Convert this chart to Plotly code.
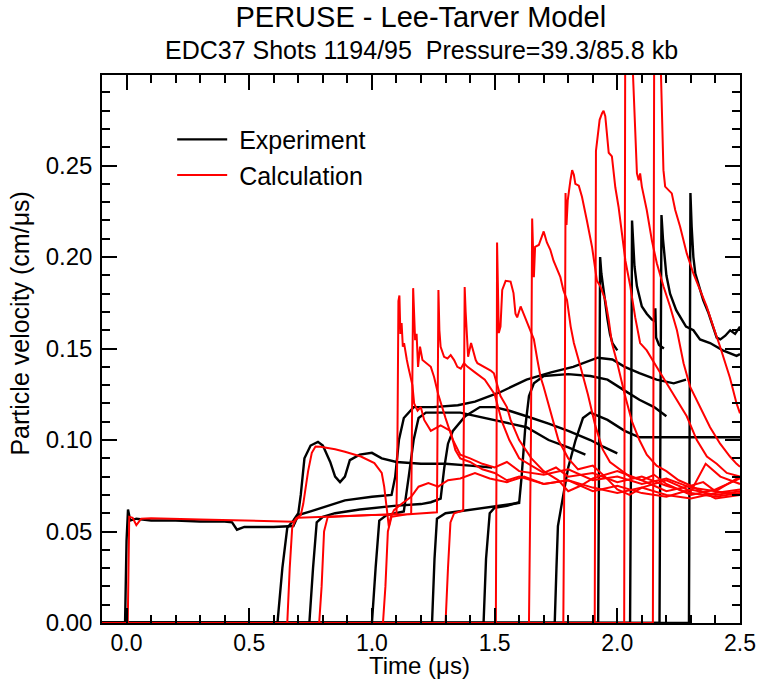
import plotly.graph_objects as go

# ---------------- Experiment (black) gauge records ----------------
exp01_t = [-0.1, -0.006, 0.0, 0.006, 0.015, 0.04, 0.1, 0.2, 0.3, 0.4, 0.43, 0.45, 0.48, 0.6, 0.68, 0.70, 0.75, 0.8, 0.89, 1.0, 1.08, 1.095, 1.11, 1.13, 1.17, 1.25, 1.35, 1.42, 1.52, 1.63, 1.73, 1.82, 1.92, 1.98, 2.03, 2.09, 2.16, 2.23, 2.28]
exp01_u = [0, 0, 0.045, 0.062, 0.056, 0.057, 0.056, 0.056, 0.0555, 0.0555, 0.055, 0.051, 0.0525, 0.0525, 0.053, 0.059, 0.061, 0.063, 0.067, 0.069, 0.070, 0.08, 0.1, 0.112, 0.118, 0.118, 0.119, 0.121, 0.126, 0.133, 0.137, 0.140, 0.145, 0.144, 0.14, 0.1366, 0.133, 0.131, 0.133]

exp02_t = [-0.1, 0.615, 0.635, 0.655, 0.68, 0.70, 0.71, 0.725, 0.75, 0.78, 0.80, 0.83, 0.85, 0.87, 0.89, 0.91, 0.95, 1.0, 1.04, 1.1, 1.2, 1.3, 1.4, 1.49]
exp02_u = [0, 0, 0.03, 0.052, 0.056, 0.060, 0.07, 0.09, 0.097, 0.099, 0.097, 0.088, 0.08, 0.077, 0.08, 0.089, 0.092, 0.093, 0.090, 0.088, 0.087, 0.087, 0.086, 0.085]

exp03_t = [-0.1, 0.745, 0.76, 0.775, 0.80, 0.85, 0.95, 1.09, 1.2, 1.24, 1.28, 1.295, 1.31, 1.33, 1.38, 1.44, 1.5, 1.56, 1.63, 1.72, 1.8, 1.89, 1.94, 2.0]
exp03_u = [0, 0, 0.03, 0.055, 0.058, 0.060, 0.062, 0.064, 0.065, 0.066, 0.068, 0.085, 0.098, 0.105, 0.113, 0.118, 0.118, 0.116, 0.113, 0.109, 0.105, 0.1, 0.0965, 0.0927]

exp04_t = [-0.1, 1.0, 1.015, 1.03, 1.06, 1.13, 1.15, 1.17, 1.19, 1.22, 1.36, 1.5, 1.63, 1.72, 1.8, 1.87]
exp04_u = [0, 0, 0.03, 0.056, 0.059, 0.061, 0.08, 0.1, 0.112, 0.115, 0.115, 0.111, 0.107, 0.1, 0.096, 0.092]

exp05_t = [-0.1, 1.245, 1.255, 1.265, 1.3, 1.4, 1.5, 1.6, 1.61, 1.625, 1.64, 1.66, 1.7, 1.8, 1.89, 1.96, 2.03, 2.09, 2.15, 2.2]
exp05_u = [0, 0, 0.035, 0.057, 0.06, 0.062, 0.064, 0.0656, 0.08, 0.107, 0.124, 0.131, 0.135, 0.136, 0.135, 0.133, 0.127, 0.122, 0.118, 0.113]

exp06_t = [-0.1, 1.455, 1.465, 1.48, 1.5, 1.55, 1.6]
exp06_u = [0, 0, 0.035, 0.06, 0.063, 0.064, 0.066]

exp07_t = [-0.1, 1.745, 1.752, 1.758, 1.78, 1.80, 1.83, 1.86, 1.89, 1.96, 2.03, 2.09, 2.5]
exp07_u = [0, 0, 0.03, 0.053, 0.07, 0.085, 0.1, 0.112, 0.115, 0.111, 0.105, 0.1015, 0.1015]

exp08_t = [-0.1, 1.922, 1.926, 1.93, 1.935, 1.945, 1.952, 1.96, 1.97, 1.98, 2.0]
exp08_u = [0, 0, 0.1, 0.2, 0.191, 0.18, 0.173, 0.166, 0.158, 0.153, 0.149]

exp09_t = [-0.1, 2.052, 2.057, 2.06, 2.065, 2.07, 2.08, 2.1, 2.12, 2.14, 2.152, 2.155, 2.158, 2.17, 2.19]
exp09_u = [0, 0, 0.12, 0.22, 0.2075, 0.195, 0.184, 0.173, 0.169, 0.166, 0.165, 0.172, 0.156, 0.152, 0.15]

exp10_t = [-0.1, 2.172, 2.176, 2.18, 2.186, 2.19, 2.2, 2.215, 2.24, 2.28, 2.31, 2.337, 2.378, 2.43, 2.486, 2.5]
exp10_u = [0, 0, 0.12, 0.223, 0.21, 0.204, 0.19, 0.18, 0.171, 0.162, 0.16, 0.155, 0.153, 0.149, 0.146, 0.147]

exp11_t = [-0.1, 2.292, 2.295, 2.298, 2.303, 2.31, 2.318, 2.33, 2.35, 2.37, 2.39, 2.405, 2.42, 2.44, 2.46, 2.48, 2.5]
exp11_u = [0, 0, 0.12, 0.235, 0.2166, 0.2, 0.191, 0.186, 0.1765, 0.17, 0.162, 0.156, 0.155, 0.157, 0.16, 0.158, 0.162]

# ---------------- Calculation (red) gauge records ----------------
calc01_t = [-0.1, 0.005, 0.008, 0.011, 0.025, 0.04, 0.06, 0.1, 0.3, 0.5, 0.68, 0.70, 0.9, 1.1, 1.104, 1.108, 1.112, 1.116, 1.121, 1.126, 1.131, 1.137, 1.142, 1.148, 1.165, 1.172, 1.186, 1.199, 1.213, 1.24, 1.28, 1.32, 1.34, 1.36, 1.40, 1.45, 1.5, 1.55, 1.6, 1.7, 1.8, 1.9, 2.0, 2.1, 2.2, 2.3, 2.4, 2.5]
calc01_u = [0, 0, 0.03, 0.058, 0.0575, 0.0535, 0.057, 0.0572, 0.0566, 0.056, 0.0553, 0.0575, 0.0585, 0.0595, 0.1, 0.176, 0.179, 0.158, 0.164, 0.151, 0.153, 0.147, 0.144, 0.14, 0.13, 0.12, 0.116, 0.118, 0.111, 0.105, 0.108, 0.105, 0.0945, 0.09, 0.088, 0.084, 0.082, 0.078, 0.080, 0.076, 0.078, 0.072, 0.075, 0.071, 0.069, 0.073, 0.070, 0.072]

calc02_t = [-0.1, 0.655, 0.665, 0.675, 0.69, 0.71, 0.72, 0.74, 0.755, 0.77, 0.79, 0.85, 0.89, 0.955, 1.01, 1.04, 1.05, 1.057, 1.063, 1.069, 1.077, 1.09, 1.12, 1.16, 1.19, 1.23, 1.27, 1.31, 1.36, 1.42, 1.48, 1.55, 1.62, 1.7, 1.8, 1.9, 2.0, 2.1, 2.2, 2.3, 2.4, 2.5]
calc02_u = [0, 0, 0.03, 0.052, 0.057, 0.059, 0.065, 0.083, 0.093, 0.0965, 0.0963, 0.095, 0.0936, 0.091, 0.0874, 0.082, 0.0745, 0.0672, 0.058, 0.0527, 0.058, 0.0617, 0.065, 0.069, 0.0745, 0.0765, 0.0745, 0.078, 0.079, 0.082, 0.079, 0.077, 0.08, 0.076, 0.078, 0.074, 0.071, 0.074, 0.070, 0.068, 0.071, 0.073]

calc03_t = [-0.1, 0.785, 0.795, 0.805, 0.82, 0.9, 1.0, 1.16, 1.164, 1.168, 1.176, 1.182, 1.188, 1.196, 1.206, 1.22, 1.24, 1.253, 1.27, 1.30, 1.33, 1.36, 1.4, 1.45, 1.5, 1.55, 1.6, 1.7, 1.8, 1.9, 2.0, 2.1, 2.2, 2.3, 2.4, 2.5]
calc03_u = [0, 0, 0.02, 0.05, 0.058, 0.0585, 0.059, 0.0595, 0.12, 0.183, 0.1546, 0.158, 0.14, 0.151, 0.1437, 0.142, 0.14, 0.1346, 0.125, 0.112, 0.1, 0.092, 0.09, 0.087, 0.085, 0.088, 0.083, 0.081, 0.084, 0.078, 0.08, 0.076, 0.079, 0.074, 0.072, 0.07]

calc04_t = [-0.1, 1.045, 1.055, 1.065, 1.08, 1.15, 1.265, 1.268, 1.271, 1.275, 1.28, 1.294, 1.308, 1.321, 1.335, 1.348, 1.362, 1.375, 1.39, 1.42, 1.46, 1.5, 1.53, 1.56, 1.6, 1.65, 1.7, 1.75, 1.8, 1.9, 2.0, 2.1, 2.2, 2.3, 2.4, 2.5]
calc04_u = [0, 0, 0.02, 0.05, 0.058, 0.0595, 0.0605, 0.12, 0.182, 0.16, 0.151, 0.1455, 0.1446, 0.1464, 0.1437, 0.14, 0.139, 0.142, 0.14, 0.137, 0.133, 0.125, 0.11, 0.1, 0.09, 0.086, 0.082, 0.085, 0.08, 0.082, 0.077, 0.08, 0.075, 0.071, 0.069, 0.071]

calc05_t = [-0.1, 1.3, 1.31, 1.32, 1.335, 1.372, 1.375, 1.378, 1.382, 1.386, 1.392, 1.404, 1.417, 1.423, 1.43, 1.457, 1.484, 1.497, 1.51, 1.524, 1.55, 1.565, 1.6, 1.65, 1.7, 1.76, 1.8, 1.85, 1.9, 2.0, 2.1, 2.2, 2.3, 2.4, 2.5]
calc05_u = [0, 0, 0.03, 0.055, 0.06, 0.0615, 0.12, 0.1836, 0.17, 0.162, 0.1455, 0.153, 0.1455, 0.1437, 0.142, 0.14, 0.138, 0.1365, 0.131, 0.124, 0.118, 0.111, 0.1, 0.09, 0.083, 0.078, 0.072, 0.075, 0.079, 0.083, 0.078, 0.072, 0.075, 0.068, 0.07]

calc06_t = [-0.1, 1.505, 1.508, 1.51, 1.517, 1.524, 1.531, 1.545, 1.565, 1.577, 1.585, 1.592, 1.606, 1.618, 1.633, 1.646, 1.66, 1.674, 1.687, 1.70, 1.714, 1.728, 1.76, 1.8, 1.84, 1.9, 1.95, 2.0, 2.05, 2.1, 2.2, 2.3, 2.36, 2.42, 2.5]
calc06_u = [0, 0, 0.1, 0.208, 0.1585, 0.162, 0.182, 0.187, 0.1866, 0.1803, 0.169, 0.167, 0.173, 0.169, 0.164, 0.16, 0.155, 0.144, 0.1346, 0.129, 0.122, 0.1146, 0.1, 0.09, 0.084, 0.086, 0.08, 0.073, 0.07, 0.074, 0.078, 0.072, 0.087, 0.08, 0.076]

calc07_t = [-0.1, 1.64, 1.648, 1.653, 1.66, 1.665, 1.68, 1.70, 1.713, 1.727, 1.74, 1.754, 1.768, 1.78, 1.795, 1.81, 1.823, 1.85, 1.88, 1.91, 1.94, 1.97, 2.0, 2.05, 2.1, 2.15, 2.2, 2.3, 2.4, 2.5]
calc07_u = [0, 0, 0.1, 0.221, 0.189, 0.2056, 0.2066, 0.214, 0.208, 0.204, 0.198, 0.193, 0.189, 0.182, 0.1765, 0.162, 0.153, 0.14, 0.125, 0.108, 0.095, 0.088, 0.085, 0.08, 0.078, 0.081, 0.076, 0.07, 0.073, 0.079]

calc08_t = [-0.1, 1.78, 1.786, 1.789, 1.793, 1.798, 1.809, 1.816, 1.823, 1.829, 1.843, 1.856, 1.876, 1.897, 1.917, 1.931, 1.951, 1.965, 1.978, 2.0, 2.03, 2.06, 2.09, 2.12, 2.16, 2.2, 2.25, 2.3, 2.35, 2.4, 2.5]
calc08_u = [0, 0, 0.12, 0.235, 0.2175, 0.231, 0.242, 0.2475, 0.245, 0.24, 0.239, 0.233, 0.22, 0.2056, 0.187, 0.184, 0.1765, 0.1656, 0.153, 0.142, 0.125, 0.11, 0.1, 0.092, 0.086, 0.083, 0.078, 0.075, 0.077, 0.072, 0.08]

calc09_t = [-0.1, 1.908, 1.913, 1.92, 1.928, 1.938, 1.944, 1.951, 1.958, 1.965, 1.978, 1.992, 2.005, 2.019, 2.033, 2.053, 2.073, 2.093, 2.12, 2.16, 2.2, 2.243, 2.283, 2.324, 2.365, 2.405, 2.446, 2.5]
calc09_u = [0, 0, 0.258, 0.266, 0.275, 0.2786, 0.28, 0.277, 0.266, 0.257, 0.255, 0.238, 0.2275, 0.213, 0.198, 0.184, 0.167, 0.153, 0.149, 0.14, 0.131, 0.122, 0.113, 0.1, 0.091, 0.087, 0.082, 0.08]

calc10_t = [-0.1, 2.028, 2.032, 2.045, 2.064, 2.073, 2.08, 2.087, 2.093, 2.1, 2.12, 2.141, 2.161, 2.188, 2.215, 2.243, 2.27, 2.297, 2.337, 2.378, 2.419, 2.459, 2.486, 2.5]
calc10_u = [0, 0, 0.3, 0.34, 0.2995, 0.271, 0.2457, 0.242, 0.2457, 0.2385, 0.2257, 0.209, 0.1966, 0.184, 0.173, 0.16, 0.142, 0.129, 0.118, 0.107, 0.098, 0.091, 0.087, 0.0854]

calc11_t = [-0.1, 2.145, 2.15, 2.165, 2.178, 2.182, 2.188, 2.195, 2.209, 2.222, 2.236, 2.256, 2.283, 2.31, 2.337, 2.364, 2.391, 2.419, 2.459, 2.486, 2.5]
calc11_u = [0, 0, 0.3, 0.34, 0.2995, 0.271, 0.2475, 0.2385, 0.2366, 0.2348, 0.2257, 0.2166, 0.202, 0.191, 0.182, 0.173, 0.162, 0.151, 0.134, 0.12, 0.1146]

experiment = [(exp01_t, exp01_u), (exp02_t, exp02_u), (exp03_t, exp03_u), (exp04_t, exp04_u),
              (exp05_t, exp05_u), (exp06_t, exp06_u), (exp07_t, exp07_u), (exp08_t, exp08_u),
              (exp09_t, exp09_u), (exp10_t, exp10_u), (exp11_t, exp11_u)]
calculation = [(calc01_t, calc01_u), (calc02_t, calc02_u), (calc03_t, calc03_u), (calc04_t, calc04_u),
               (calc05_t, calc05_u), (calc06_t, calc06_u), (calc07_t, calc07_u), (calc08_t, calc08_u),
               (calc09_t, calc09_u), (calc10_t, calc10_u), (calc11_t, calc11_u)]

x_tick_vals = [0.0, 0.5, 1.0, 1.5, 2.0, 2.5]
y_tick_vals = [0.0, 0.05, 0.10, 0.15, 0.20, 0.25]

FONT = "Liberation Sans, Arial, sans-serif"

fig = go.Figure()
for i, (t, u) in enumerate(experiment):
    fig.add_trace(go.Scatter(x=t, y=u, mode="lines", line=dict(color="black", width=2.4),
                             name="\u00a0Experiment", legendgroup="exp", showlegend=(i == 0),
                             hoverinfo="skip"))
for i, (t, u) in enumerate(calculation):
    fig.add_trace(go.Scatter(x=t, y=u, mode="lines", line=dict(color="#ff0000", width=2),
                             name="\u00a0Calculation", legendgroup="calc", showlegend=(i == 0),
                             hoverinfo="skip"))

axis_common = dict(showline=True, linecolor="black", linewidth=1.5, mirror="allticks",
                   ticks="inside", ticklen=15, tickwidth=1.5, tickcolor="black",
                   showgrid=False, zeroline=False, automargin=False)

fig.update_layout(
    width=761, height=681,
    margin=dict(l=102, r=21, t=75, b=58),
    paper_bgcolor="white", plot_bgcolor="white",
    font=dict(family=FONT, color="black"),
    title=dict(text="PERUSE - Lee-Tarver Model", x=0.553, xanchor="center",
               y=0.975, yanchor="middle", yref="container",
               font=dict(family=FONT, size=29, color="black")),
    xaxis=dict(range=[-0.1, 2.5], tickvals=x_tick_vals, tickformat=".1f",
               tickfont=dict(family=FONT, size=23, color="black"),
               minor=dict(dtick=0.1, tick0=0, ticks="inside", ticklen=8, tickwidth=1.5, tickcolor="black"),
               ticklabelstandoff=-1,
               **axis_common),
    yaxis=dict(range=[0, 0.2995], tickvals=y_tick_vals, tickformat=".2f",
               tickfont=dict(family=FONT, size=24, color="black"),
               minor=dict(dtick=0.01, tick0=0, ticks="inside", ticklen=8, tickwidth=1.5, tickcolor="black"),
               ticklabelstandoff=3,
               **axis_common),
    legend=dict(x=0.11, y=0.924, xanchor="left", yanchor="top", bgcolor="rgba(0,0,0,0)",
                font=dict(family=FONT, size=25, color="black"), itemwidth=50,
                tracegroupgap=0),
    annotations=[
        dict(text="EDC37 Shots 1194/95\u00a0\u00a0Pressure=39.3/85.8 kb",
             xref="paper", yref="paper", x=0.5, y=1.0456, xanchor="center", yanchor="middle",
             showarrow=False, font=dict(family=FONT, size=25, color="black")),
        dict(text="Time (μs)", xref="paper", yref="paper", x=0.497, y=-0.077,
             xanchor="center", yanchor="middle", showarrow=False,
             font=dict(family=FONT, size=24, color="black")),
        dict(text="Particle velocity (cm/μs)", xref="paper", yref="paper", x=-0.128, y=0.547,
             xanchor="center", yanchor="middle", textangle=-90, showarrow=False,
             font=dict(family=FONT, size=25, color="black")),
    ],
)

fig.write_html("out.html")
